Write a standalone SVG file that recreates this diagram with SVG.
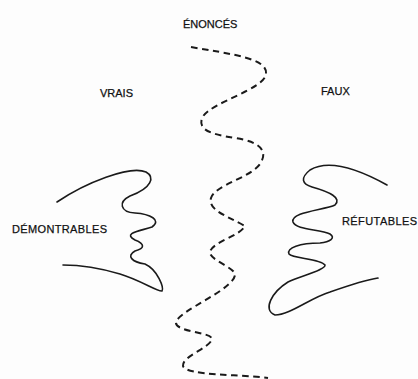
<svg xmlns="http://www.w3.org/2000/svg" width="418" height="379" viewBox="0 0 418 379">
  <style>
    .lbl { font-family: "Liberation Sans", Arial, sans-serif; font-size: 11px; fill: #111; stroke: #111; stroke-width: 0.25; }
    .solid { fill: none; stroke: #1a1a1a; stroke-width: 1.6; stroke-linecap: round; stroke-linejoin: round; }
    .dash { fill: none; stroke: #1a1a1a; stroke-width: 2; stroke-dasharray: 6.5 4.5; }
  </style>
  <rect width="418" height="379" fill="#fdfdfd"/>
  <g id="labels">
    <text class="lbl" x="183" y="28">ÉNONCÉS</text>
    <text class="lbl" x="100" y="97">VRAIS</text>
    <text class="lbl" x="321" y="95">FAUX</text>
    <text class="lbl" x="12" y="233" textLength="95">DÉMONTRABLES</text>
    <text class="lbl" x="342" y="225" textLength="75">RÉFUTABLES</text>
  </g>
  <g id="frontier">
    <path class="dash" d="M191,47 C230,54 268,58 266,74 C264,90 210,102 202,118 C198,130 210,134 235,138 C262,142 268,152 260,164 C250,178 215,185 211,198 C208,210 225,215 245,226 C240,236 212,242 210,252 C209,260 236,268 235,275 C233,290 180,310 176,322 C174,332 212,332 212,339 C210,348 182,356 183,366 C186,376 240,374 268,378"/>
  </g>
  <g id="demontrables">
    <path class="solid" d="M57,202 C85,183 130,165 146,172 C155,177 152,188 130,196 C118,202 120,212 135,213 C150,214 162,220 152,227 C140,231 122,233 135,240 C145,244 145,248 135,251 C126,256 132,262 145,264 C158,270 164,288 162,291 C158,292 140,280 120,274 C100,268 80,265 63,265"/>
  </g>
  <g id="refutables">
    <path class="solid" d="M387,185 C360,170 330,158 310,170 C300,178 302,184 312,187 C330,192 342,198 335,205 C325,210 290,212 293,222 C296,230 320,229 330,234 C336,238 330,242 320,243 C300,243 286,248 289,254 C293,259 320,258 325,265 C326,270 300,276 288,282 C272,292 262,310 275,315 C290,315 310,298 330,292 C350,285 365,280 378,278"/>
  </g>
</svg>
